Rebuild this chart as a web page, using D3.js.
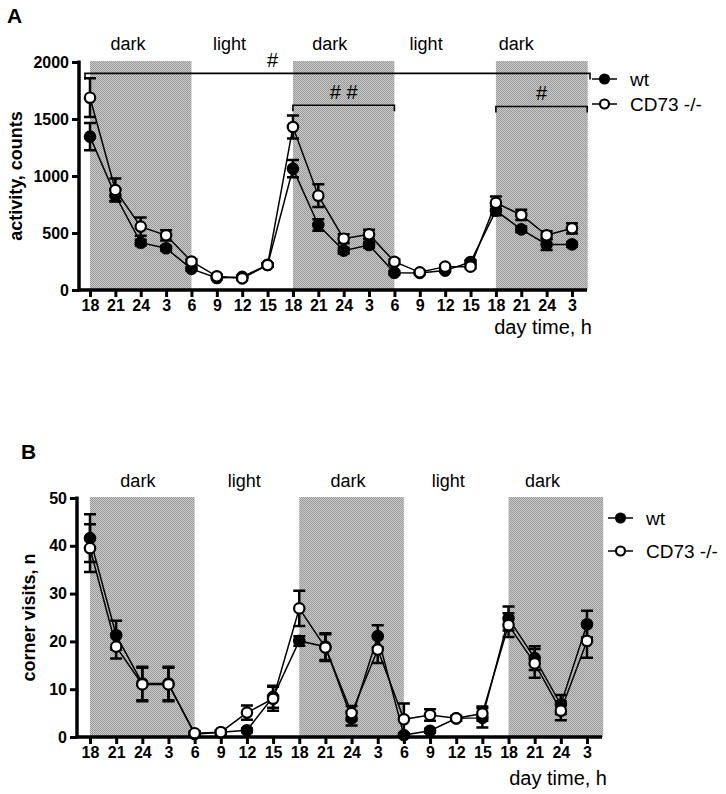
<!DOCTYPE html>
<html><head><meta charset="utf-8">
<script src="https://cdn.jsdelivr.net/npm/d3@7"></script>
<style>
body{margin:0;background:#fff;}
svg{display:block;font-family:"Liberation Sans",Arial,sans-serif;}
</style></head>
<body>
<svg id="c" width="726" height="794"></svg>
<script>
// ---- data ----
const timeLabels = ["18","21","24","3","6","9","12","15","18","21","24","3","6","9","12","15","18","21","24","3"];
const phaseLabels = ["dark","light","dark","light","dark"];
const seriesNames = ["wt","CD73 -/-"];

// Panel A: activity, counts
const activityWt    = [1345, 830, 415, 366, 185, 105, 115, 220, 1065, 570, 345, 395, 152, 150, 170, 245, 696, 532, 400, 400];
const activityWtErr = [120, 50, 25, 20, 15, 10, 10, 15, 75, 50, 25, 25, 15, 10, 10, 15, 40, 25, 50, 20];
const activityKo    = [1687, 877, 556, 480, 250, 120, 102, 219, 1430, 827, 450, 488, 248, 155, 205, 205, 765, 658, 480, 541];
const activityKoErr = [170, 100, 80, 45, 20, 15, 15, 15, 100, 100, 40, 40, 20, 15, 15, 15, 55, 45, 35, 45];
const activityTicks = [0, 500, 1000, 1500, 2000];

// Panel B: corner visits, n
const visitsWt    = [41.6, 21.3, 11.2, 11.2, 0.6, 1.0, 1.4, 8.4, 20.1, 18.9, 3.9, 21.1, 0.4, 1.3, 3.9, 4.0, 24.8, 16.5, 6.8, 23.6];
const visitsWtErr = [5, 3, 3.5, 3.5, 0.4, 0.4, 0.4, 2.3, 1, 2.8, 1.5, 2.3, 0.4, 0.4, 0.5, 2, 2.5, 2.5, 2, 2.8];
const visitsKo    = [39.5, 18.9, 11.0, 11.0, 0.8, 1.0, 5.1, 8.0, 26.9, 18.7, 5.0, 18.3, 3.7, 4.6, 3.9, 4.9, 23.4, 15.4, 5.5, 20.1];
const visitsKoErr = [5, 2.5, 3.5, 3.5, 0.4, 0.4, 1.5, 2.5, 3.7, 2.8, 1.5, 2.8, 3.3, 1.2, 0.5, 1.5, 2.5, 3, 2, 3.5];
const visitsTicks = [0, 10, 20, 30, 40, 50];

const darkPeriods = [[0,4],[8,12],[16,19.62]];

const svg = d3.select("#c");
const defs = svg.append("defs");
const pat = defs.append("pattern").attr("id","chk").attr("width",2).attr("height",2)
  .attr("patternUnits","userSpaceOnUse");
pat.append("rect").attr("width",2).attr("height",2).attr("fill","#c9c9c9");
pat.append("rect").attr("width",1).attr("height",1).attr("fill","#9a9a9a");
pat.append("rect").attr("x",1).attr("y",1).attr("width",1).attr("height",1).attr("fill","#9a9a9a");

function panel(cfg){
  const g = svg.append("g");
  const x = d3.scaleLinear().domain([0,19]).range([cfg.x0, cfg.x19]);
  const y = d3.scaleLinear().domain([0, cfg.ymax]).range([cfg.yb, cfg.yt]);

  // shading
  g.selectAll("rect.dark").data(darkPeriods).join("rect")
    .attr("x", d => x(d[0])).attr("width", d => x(d[1]) - x(d[0]))
    .attr("y", y(cfg.ymax) - 1).attr("height", y(0) - y(cfg.ymax) + 1)
    .attr("fill","url(#chk)");

  // phase labels
  g.selectAll("text.ph").data(phaseLabels).join("text")
    .attr("x", (d,i) => x(cfg.phasePos[i])).attr("y", cfg.phaseY)
    .attr("text-anchor","middle").attr("font-size",18).text(d=>d);

  // axes
  const ya = g.append("g").attr("transform",`translate(${cfg.ax},0)`)
    .call(d3.axisLeft(y).tickValues(cfg.ticks).tickFormat(d3.format("d")).tickSize(7).tickPadding(3));
  ya.select(".domain").remove();
  ya.selectAll(".tick line").attr("stroke-width",3);
  ya.selectAll(".tick text").attr("font-size",16).attr("font-weight","bold").attr("fill","#000")
    .attr("font-family","Liberation Sans, Arial, sans-serif");
  g.append("line").attr("x1",cfg.ax).attr("x2",cfg.ax).attr("y1",y(cfg.ymax)-1.5).attr("y2",y(0)+1.5)
    .attr("stroke","#000").attr("stroke-width",3.5);

  const xa = g.append("g").attr("transform",`translate(0,${y(0)})`)
    .call(d3.axisBottom(x).tickValues(d3.range(20)).tickFormat(i => timeLabels[i]).tickSize(7).tickPadding(3));
  xa.select(".domain").remove();
  xa.selectAll(".tick line").attr("stroke-width",3);
  xa.selectAll(".tick text").attr("font-size",16).attr("font-weight","bold").attr("fill","#000")
    .attr("font-family","Liberation Sans, Arial, sans-serif");
  g.append("line").attr("x1",cfg.ax).attr("x2",cfg.xEnd).attr("y1",y(0)).attr("y2",y(0))
    .attr("stroke","#000").attr("stroke-width",3.5);

  // titles
  g.append("text").attr("transform",`translate(${cfg.ytx},${(y(0)+y(cfg.ymax))/2 + cfg.ytdy}) rotate(-90)`)
    .attr("text-anchor","middle").attr("font-size",18).attr("font-weight","bold").text(cfg.ytitle);
  g.append("text").attr("x", cfg.xEnd + 5).attr("y", cfg.xtY).attr("text-anchor","end")
    .attr("font-size",20).text("day time, h");
  g.append("text").attr("x", cfg.letterX).attr("y", cfg.letterY).attr("font-size",21)
    .attr("font-weight","bold").text(cfg.letter);

  // significance
  if (cfg.sig) cfg.sig.forEach(s => {
    const x1 = s.from === null ? cfg.ax + 6 : x(s.from);
    const x2 = s.to === null ? cfg.xEnd + 3 : x(s.to);
    const yy = y(s.level);
    g.append("path").attr("d",`M${x1},${yy+6}V${yy}H${x2}V${yy+6}`)
      .attr("fill","none").attr("stroke","#000").attr("stroke-width",1.6);
    g.append("text").attr("x", s.tx === undefined ? (x1+x2)/2 : x(s.tx)).attr("y", yy - 6)
      .attr("text-anchor","middle").attr("font-size",20).text(s.label);
  });

  // series
  const sets = [
    {v: cfg.wt, e: cfg.wtErr, fill:"#000"},
    {v: cfg.ko, e: cfg.koErr, fill:"#fff"}
  ];
  const line = d3.line().x((d,i)=>x(i)).y(d=>y(d));
  sets.forEach(s=>{
    g.append("path").datum(s.v).attr("d",line).attr("fill","none").attr("stroke","#000").attr("stroke-width",1.5);
  });
  sets.forEach(s=>{
    const eb = g.append("g");
    s.v.forEach((v,i)=>{
      const e = s.e[i];
      const cx = x(i);
      eb.append("path").attr("d",
        `M${cx},${y(v+e)}V${y(v-e)}M${cx-6},${y(v+e)}H${cx+6}M${cx-6},${y(v-e)}H${cx+6}`)
        .attr("stroke","#000").attr("stroke-width",2.5).attr("fill","none");
    });
  });
  sets.forEach(s=>{
    g.append("g").selectAll("circle").data(s.v).join("circle")
      .attr("cx",(d,i)=>x(i)).attr("cy",d=>y(d)).attr("r",5.2)
      .attr("fill",s.fill).attr("stroke","#000").attr("stroke-width",2.2);
  });

  // legend
  seriesNames.forEach((n,i)=>{
    const ly = cfg.legY[i];
    g.append("line").attr("x1",cfg.legX).attr("x2",cfg.legX+25).attr("y1",ly).attr("y2",ly)
      .attr("stroke","#000").attr("stroke-width",1.5);
    g.append("circle").attr("cx",cfg.legX+12.5).attr("cy",ly).attr("r",4.5)
      .attr("fill", i===0 ? "#000" : "#fff").attr("stroke","#000").attr("stroke-width",2.2);
    g.append("text").attr("x",cfg.legX+38).attr("y",ly+7).attr("font-size",19).text(n);
  });
}

panel({
  x0:90, x19:572, yb:290, yt:62, ymax:2000, ax:79, xEnd:587,
  ticks: activityTicks, wt: activityWt, wtErr: activityWtErr, ko: activityKo, koErr: activityKoErr,
  phasePos:[1.5,5.5,9.45,13.25,16.8], phaseY:50,
  ytitle:"activity, counts", ytx:22, ytdy:0, xtY:334,
  letter:"A", letterX:7, letterY:23,
  legX:592, legY:[79,104],
  sig:[
    {from:null, to:null, level:1900, label:"#", tx:7.2},
    {from:8, to:12, level:1620, label:"# #"},
    {from:16, to:19.6, level:1610, label:"#"}
  ]
});

panel({
  x0:90, x19:587, yb:737, yt:498, ymax:50, ax:77, xEnd:602,
  ticks: visitsTicks, wt: visitsWt, wtErr: visitsWtErr, ko: visitsKo, koErr: visitsKoErr,
  phasePos:[1.83,5.9,9.86,13.7,17.3], phaseY:487,
  ytitle:"corner visits, n", ytx:35, ytdy:0, xtY:785,
  letter:"B", letterX:21, letterY:459,
  legX:608, legY:[518,551],
  sig:null
});
</script>
</body></html>
